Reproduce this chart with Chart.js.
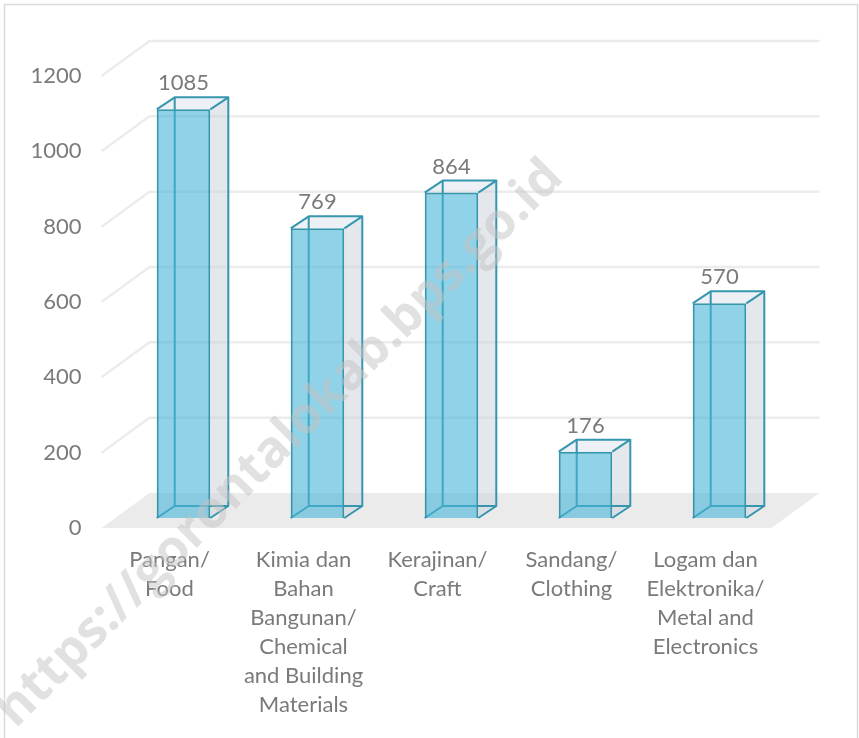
<!DOCTYPE html>
<html>
<head>
<meta charset="utf-8">
<script src="https://cdn.jsdelivr.net/npm/chart.js@4.4.1/dist/chart.umd.min.js"></script>
<style>
  html, body { margin: 0; padding: 0; background: #fff; }
  canvas { display: block; }
</style>
</head>
<body>
<canvas id="chartIndustri" width="859" height="738"></canvas>
<script>
// Jumlah usaha industri menurut jenis
const categories = [
  ['Pangan/', 'Food'],
  ['Kimia dan', 'Bahan', 'Bangunan/', 'Chemical', 'and Building', 'Materials'],
  ['Kerajinan/', 'Craft'],
  ['Sandang/', 'Clothing'],
  ['Logam dan', 'Elektronika/', 'Metal and', 'Electronics']
];
const values = [1085, 769, 864, 176, 570];
const yTicks = [0, 200, 400, 600, 800, 1000, 1200];

const watermark = 'https://gorontalokab.bps.go.id';

// ukuran tampilan 3D
const BOX = { dx: 18, dy: -12 };     // kedalaman batang
const FLOOR = { dx: 48, dy: -35 };   // kedalaman lantai / dinding belakang
const FRONT = { dx: -15, dy: 10 };   // bidang depan sumbu relatif ke bidang batang
const EDGE = '#3596ad';
const TEXT = '#7a7a7a';
const FONT = 'Lato';

function poly(ctx, pts) {
  ctx.beginPath();
  ctx.moveTo(pts[0][0], pts[0][1]);
  for (let i = 1; i < pts.length; i++) ctx.lineTo(pts[i][0], pts[i][1]);
  ctx.closePath();
}

function boxPoints(bar) {
  const L = bar.x - bar.width / 2, R = bar.x + bar.width / 2;
  const T = bar.y, B = bar.base;
  return { L, R, T, B };
}

const box3d = {
  id: 'box3d',
  beforeDatasetsDraw(chart) {
    const { ctx, chartArea: a, scales: { y } } = chart;
    const fl = a.left + FRONT.dx, fr = a.right + FRONT.dx;
    const y0 = y.getPixelForValue(0) + FRONT.dy;

    ctx.save();
    // lantai
    ctx.fillStyle = '#ebebeb';
    poly(ctx, [[fl, y0], [fr, y0], [fr + FLOOR.dx, y0 + FLOOR.dy], [fl + FLOOR.dx, y0 + FLOOR.dy]]);
    ctx.fill();

    // garis bantu di dinding belakang
    ctx.strokeStyle = '#ececec';
    ctx.lineWidth = 2.5;
    yTicks.filter(v => v > 0).forEach(v => {
      const py = y.getPixelForValue(v) + FRONT.dy;
      ctx.beginPath();
      ctx.moveTo(fl, py);
      ctx.lineTo(fl + FLOOR.dx, py + FLOOR.dy);
      ctx.lineTo(fr + FLOOR.dx, py + FLOOR.dy);
      ctx.stroke();
    });

    // sisi samping, atas dan rusuk belakang
    chart.getDatasetMeta(0).data.forEach(bar => {
      const { L, R, T, B } = boxPoints(bar);
      ctx.fillStyle = 'rgba(205,214,222,0.55)';
      poly(ctx, [[R, T], [R + BOX.dx, T + BOX.dy], [R + BOX.dx, B + BOX.dy], [R, B]]);
      ctx.fill();
      ctx.fillStyle = 'rgba(215,224,232,0.45)';
      poly(ctx, [[L, T], [L + BOX.dx, T + BOX.dy], [R + BOX.dx, T + BOX.dy], [R, T]]);
      ctx.fill();

      ctx.strokeStyle = EDGE;
      ctx.lineWidth = 2;
      ctx.beginPath();
      ctx.moveTo(L + BOX.dx, T + BOX.dy);
      ctx.lineTo(L + BOX.dx, B + BOX.dy);
      ctx.lineTo(R + BOX.dx, B + BOX.dy);
      ctx.moveTo(L, B);
      ctx.lineTo(L + BOX.dx, B + BOX.dy);
      ctx.stroke();
    });
    ctx.restore();
  },
  afterDatasetsDraw(chart) {
    const { ctx } = chart;
    const meta = chart.getDatasetMeta(0);
    ctx.save();
    ctx.strokeStyle = EDGE;
    ctx.lineWidth = 2;
    ctx.lineJoin = 'round';
    meta.data.forEach((bar, i) => {
      const { L, R, T, B } = boxPoints(bar);
      ctx.beginPath();
      ctx.moveTo(L, T);
      ctx.lineTo(L + BOX.dx, T + BOX.dy);
      ctx.lineTo(R + BOX.dx, T + BOX.dy);
      ctx.lineTo(R, T);
      ctx.moveTo(R + BOX.dx, T + BOX.dy);
      ctx.lineTo(R + BOX.dx, B + BOX.dy);
      ctx.lineTo(R, B);
      ctx.stroke();

      // label nilai
      ctx.fillStyle = TEXT;
      ctx.font = `22px ${FONT}`;
      ctx.textAlign = 'center';
      ctx.textBaseline = 'middle';
      ctx.fillText(values[i], bar.x, T - 26);
    });
    ctx.restore();
  },
  afterDraw(chart) {
    const { ctx, width, height } = chart;
    ctx.save();
    // bingkai
    ctx.strokeStyle = '#d9d9d9';
    ctx.lineWidth = 1.5;
    ctx.strokeRect(4.5, 4.5, width - 6, height + 10);

    // tanda air
    ctx.translate(280, 444);
    ctx.rotate(-Math.PI / 4);
    ctx.font = 'bold 51px "Open Sans"';
    ctx.fillStyle = 'rgba(195,195,195,0.5)';
    ctx.textAlign = 'center';
    ctx.textBaseline = 'middle';
    ctx.fillText(watermark, 0, 0);
    ctx.restore();
  }
};

new Chart(document.getElementById('chartIndustri'), {
  type: 'bar',
  data: {
    labels: categories,
    datasets: [{
      data: values,
      backgroundColor: 'rgba(70,180,215,0.6)',
      borderColor: EDGE,
      borderWidth: 2,
      categoryPercentage: 1,
      barPercentage: 0.4
    }]
  },
  options: {
    responsive: false,
    animation: false,
    layout: { padding: { top: 66, right: 72.5, left: 0, bottom: 0 } },
    plugins: { legend: { display: false }, tooltip: { enabled: false } },
    scales: {
      x: {
        grid: { display: false, drawTicks: false },
        border: { display: false },
        ticks: {
          color: TEXT,
          font: { family: FONT, size: 22, lineHeight: 29 / 22 },
          padding: 27.5,
          labelOffset: -14,
          maxRotation: 0,
          autoSkip: false
        },
        afterFit(scale) { scale.height = 220; }
      },
      y: {
        min: yTicks[0],
        max: yTicks[yTicks.length - 1],
        grid: { display: false, drawTicks: false },
        border: { display: false },
        ticks: {
          stepSize: yTicks[1] - yTicks[0],
          color: TEXT,
          font: { family: FONT, size: 22 },
          padding: 35,
          labelOffset: 10,
          callback: v => String(v)
        },
        afterFit(scale) { scale.width = 116.5; }
      }
    }
  },
  plugins: [box3d]
});
</script>
</body>
</html>
